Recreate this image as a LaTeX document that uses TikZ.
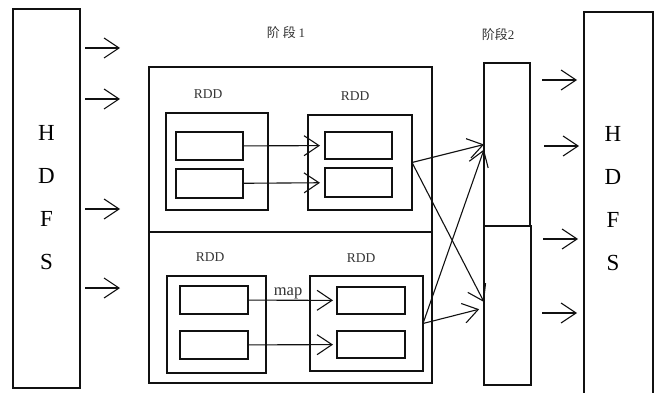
\documentclass[tikz,border=0pt]{standalone}
\usepackage{fontspec}
\setmainfont{Liberation Serif}
\newfontfamily\cjk{Noto Sans CJK SC}
\usepackage{xcolor}
\usetikzlibrary{calc,arrows.meta,positioning}
\definecolor{inkc}{HTML}{111111}
\definecolor{txtc}{HTML}{333333}
\tikzset{
  bx/.style={draw=inkc,line width=2.5pt,minimum width=#1,inner sep=0pt,outer sep=0pt},
  ar/.style={-{Straight Barb[length=15pt,width=20pt,line width=1.1pt]},line width=1.1pt,inkc},
  lb/.style={text=txtc,inner sep=1pt,font=\fontsize{13.5}{13.5}\selectfont},
  hd/.style={align=center,inner sep=0pt,font=\fontsize{23}{43}\selectfont}
}
\begin{document}
\begin{tikzpicture}[x=1pt,y=-1pt]
\useasboundingbox (0,0) rectangle (659,393);
% HDFS on both sides
\node[bx=67pt,minimum height=379pt] (hdfsL) at (46.5,198.5) {};
\node[hd] (hdfsLtxt) at (46.5,197.5) {H\\D\\F\\S};
\node[bx=69pt,minimum height=388pt] (hdfsR) at (618.5,206) {};
\node[hd] (hdfsRtxt) at (613,199) {H\\D\\F\\S};
% stage 1
\node[lb,font=\cjk\fontsize{13}{13}\selectfont] (st1) at (286,33) {阶 段 \textrm{1}};
\node[bx=283pt,minimum height=165pt] (up) at (290.5,149.5) {};
\node[bx=283pt,minimum height=151pt] (lo) at (290.5,307.5) {};
% upper RDDs
\node[bx=102pt,minimum height=97pt] (rddA) at (217,161.5) {};
\node[bx=67pt,minimum height=28pt] (a1) at (209.5,146) {};
\node[bx=67pt,minimum height=29pt] (a2) at (209.5,183.5) {};
\node[bx=104pt,minimum height=95pt] (rddB) at (360,162.5) {};
\node[bx=67pt,minimum height=27pt] (b1) at (358.5,145.5) {};
\node[bx=67pt,minimum height=29pt] (b2) at (358.5,182.5) {};
\node[lb] (lA) at (208,94) {RDD};
\node[lb] (lB) at (355,96) {RDD};
% lower RDDs
\node[bx=99pt,minimum height=97pt] (rddC) at (216.5,324.5) {};
\node[bx=68pt,minimum height=28pt] (c1) at (214,300) {};
\node[bx=68pt,minimum height=28pt] (c2) at (214,345) {};
\node[bx=113pt,minimum height=95pt] (rddD) at (366.5,323.5) {};
\node[bx=68pt,minimum height=27pt] (d1) at (371,300.5) {};
\node[bx=68pt,minimum height=27pt] (d2) at (371,344.5) {};
\node[lb] (lC) at (210,257) {RDD};
\node[lb] (lD) at (361,258) {RDD};
% stage 2
\node[lb,font=\cjk\fontsize{13}{13}\selectfont] (st2) at (498,35) {阶段\textrm{2}};
\node[bx=46pt,minimum height=163pt] (s2a) at (507,144.5) {};
\node[bx=47pt,minimum height=159pt] (s2b) at (507.5,305.5) {};
% narrow dependencies
\draw[ar,shorten >=5pt] (a1) -- (b1);
\draw[ar,shorten >=5pt] (a2) -- (b2);
\draw[ar,shorten >=4pt] (c1) -- (d1) node[pos=0.45,above=-3pt,font=\fontsize{16.5}{16.5}\selectfont,text=txtc] (mp) {map};
\draw[ar,shorten >=4pt] (c2) -- (d2);
% shuffle
\draw[ar] (rddB.east) -- (s2a.west);
\draw[ar] (rddB.east) -- ([yshift=3.5pt]s2b.west);
\draw[ar] (rddD.east) -- ([yshift=-5pt]s2a.west);
\draw[ar,shorten >=5pt] (rddD.east) -- ([yshift=-2.5pt]s2b.west);
% input / output
\foreach \y [count=\i] in {48,99,209,288}{
  \coordinate (in\i) at (85,\y);
  \draw[ar] (in\i) -- ++(35,0);}
\foreach \y/\x [count=\i] in {80/542,146/544,239/543,313/542}{
  \coordinate (out\i) at (\x,\y);
  \draw[ar] (out\i) -- ++(35,0);}
\end{tikzpicture}
\end{document}
